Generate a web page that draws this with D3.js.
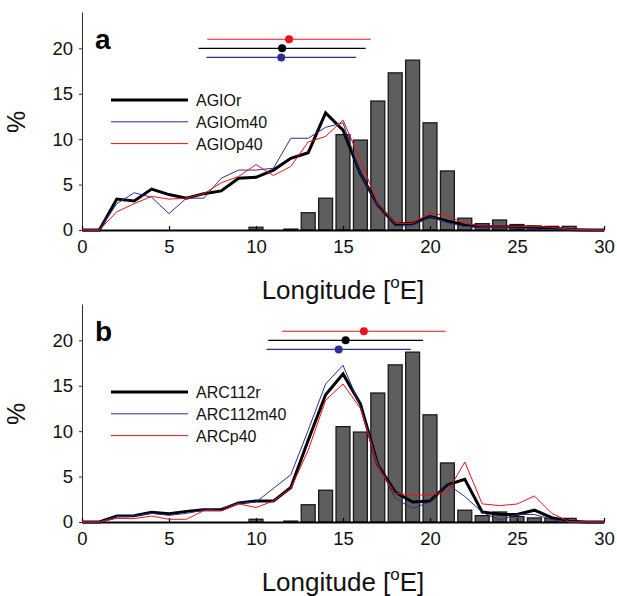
<!DOCTYPE html>
<html>
<head>
<meta charset="utf-8">
<script src="https://cdn.jsdelivr.net/npm/d3@7"></script>
<style>
  body { margin: 0; background: #fff; }
  svg { display: block; font-family: Arial, "Liberation Sans", sans-serif; }
</style>
</head>
<body>
<div id="chart"></div>
<script>
// Längengrade 0..30
const longitude = d3.range(0, 31);

// Beobachtungen (Balken), gleiche Verteilung in beiden Panels
const obsLon = [10, 12, 13, 14, 15, 16, 17, 18, 19, 20, 21, 22, 23, 24, 25, 26, 27, 28];
const obsPct = [0.3, 0.1, 1.9, 3.5, 10.5, 9.9, 14.2, 17.3, 18.7, 11.8, 6.5, 1.3, 0.7, 1.1, 0.6, 0.45, 0.4, 0.4];

// Panel a
const agioR   = [0,0,3.4,3.2,4.5,3.9,3.5,4.0,4.3,5.7,5.8,6.6,7.9,8.5,12.9,11.0,6.2,2.75,0.62,0.73,1.47,1.0,0.55,0.37,0.37,0.35,0.3,0.2,0.05,0,0];
const agioM40 = [0,0,2.9,4.1,3.6,1.8,3.5,3.5,5.7,6.6,6.6,6.8,10.1,10.1,11.3,11.8,6.2,2.6,0.44,0.44,1.47,0.8,0.37,0.3,0.25,0.2,0.1,0.05,0,0,0];
const agioP40 = [0,0,2.0,2.9,3.7,3.4,3.5,4.0,5.2,5.9,7.2,6.0,7.0,9.7,10.3,12.1,7.7,2.9,0.73,0.73,1.9,1.54,0.73,0.44,0.44,0.4,0.4,0.3,0.1,0,0];

// Panel b
const arcR   = [0,0,0.66,0.7,1.08,0.9,1.17,1.35,1.35,2.1,2.3,2.3,3.8,9.0,14.0,16.3,13.0,6.3,3.3,2.2,2.3,4.1,4.7,1.1,0.85,0.82,1.3,0.47,0.08,0,0];
const arcM40 = [0,0,0.6,0.66,0.95,0.73,0.95,1.3,1.5,2.05,2.2,3.7,5.2,10.1,15.2,17.25,12.7,6.4,2.6,1.5,2.2,4.2,2.8,1.08,0.22,0.85,0.82,0.28,0,0,0];
const arcP40 = [0,0,0.4,0.37,0.66,0.3,0.3,1.25,1.25,2.0,1.6,2.3,3.7,7.9,13.4,15.2,12.5,6.1,3.15,2.97,2.97,3.3,6.6,2.0,1.8,1.98,2.86,0.95,0.04,0,0];

// Mittelwert ± Standardabweichung (oben im Panel)
const agioMean = [11.5, 11.45, 11.9];
const agioStd  = [4.8, 4.3, 4.7];
const arcMean  = [15.15, 14.75, 16.2];
const arcStd   = [4.45, 4.15, 4.7];
const meanRowY = [20, 19, 21];

const xTicks = [0, 5, 10, 15, 20, 25, 30];
const yTicks = [0, 5, 10, 15, 20];

const colors = ["#000000", "#2e2e8e", "#f01018"];
const widths = [3, 1, 1];

const svg = d3.select("#chart").append("svg")
  .attr("width", 617)
  .attr("height", 596);

const x = d3.scaleLinear().domain([0, 30]).range([82, 604]);

function drawPanel(top, letter, names, series, means, stds) {
  const y = d3.scaleLinear().domain([0, 24]).range([top + 218, top]);
  const g = svg.append("g");

  // Balken
  const bw = x(0.8) - x(0);
  g.selectAll("rect.bar")
    .data(obsLon.map((d, i) => ({ lon: d, pct: obsPct[i] })))
    .enter().append("rect")
    .attr("class", "bar")
    .attr("x", d => x(d.lon) - bw / 2)
    .attr("width", bw)
    .attr("y", d => y(d.pct))
    .attr("height", d => y(0) - y(d.pct))
    .attr("fill", "#5e5e5e")
    .attr("stroke", "#1a1a1a")
    .attr("stroke-width", 1.3);

  // Achsen
  const yAxis = g.append("g")
    .attr("transform", `translate(${x(0)},0)`)
    .call(d3.axisLeft(y).tickValues(yTicks).tickSize(3).tickSizeOuter(0).tickPadding(6));
  yAxis.select(".domain").attr("stroke", "#333");
  yAxis.selectAll(".tick line").attr("stroke", "#333");
  yAxis.selectAll("text").attr("font-size", 18.5).attr("font-family", "Arial, 'Liberation Sans', sans-serif").attr("fill", "#111");

  const xAxis = g.append("g")
    .attr("transform", `translate(0,${y(0)})`)
    .call(d3.axisBottom(x).tickValues(xTicks).tickSize(-4).tickSizeOuter(0).tickPadding(10));
  xAxis.select(".domain").attr("stroke", "#000").attr("stroke-width", 2);
  xAxis.selectAll(".tick line").attr("stroke", "#000").attr("stroke-width", 1.2);
  xAxis.selectAll("text").attr("font-size", 18.5).attr("font-family", "Arial, 'Liberation Sans', sans-serif").attr("fill", "#111");

  // Linien
  const line = d3.line().x((d, i) => x(longitude[i])).y(d => y(d));
  series.forEach((s, i) => {
    g.append("path")
      .datum(s)
      .attr("d", line)
      .attr("fill", "none")
      .attr("stroke", colors[i])
      .attr("stroke-width", widths[i])
      .attr("stroke-linejoin", "miter");
  });

  // Mittelwert ± Std
  [0, 1, 2].forEach(i => {
    g.append("line")
      .attr("x1", x(means[i] - stds[i]))
      .attr("x2", x(means[i] + stds[i]))
      .attr("y1", y(meanRowY[i]))
      .attr("y2", y(meanRowY[i]))
      .attr("stroke", colors[i])
      .attr("stroke-width", 1.2);
    g.append("circle")
      .attr("cx", x(means[i]))
      .attr("cy", y(meanRowY[i]))
      .attr("r", 4)
      .attr("fill", colors[i]);
  });

  // Legende
  const lg = g.append("g");
  names.forEach((n, i) => {
    const ly = top + 88 + i * 21.8;
    lg.append("line")
      .attr("x1", 111).attr("x2", 188)
      .attr("y1", ly).attr("y2", ly)
      .attr("stroke", colors[i])
      .attr("stroke-width", widths[i]);
    lg.append("text")
      .attr("x", 196)
      .attr("y", ly + 6)
      .attr("font-size", 16)
      .attr("fill", "#111")
      .text(n);
  });

  // Buchstabe
  g.append("text")
    .attr("x", 95)
    .attr("y", top + 37)
    .attr("font-size", 28)
    .attr("font-weight", "bold")
    .text(letter);

  // Achsentitel
  const xt = g.append("text")
    .attr("x", x(15))
    .attr("y", y(0) + 69)
    .attr("text-anchor", "middle")
    .attr("font-size", 26)
    .attr("fill", "#111");
  xt.append("tspan").text("Longitude [");
  xt.append("tspan").attr("font-size", 17).attr("dy", -11).text("o");
  xt.append("tspan").attr("dy", 11).text("E]");

  g.append("text")
    .attr("transform", `translate(25,${top + 110}) rotate(-90)`)
    .attr("text-anchor", "middle")
    .attr("font-size", 25)
    .attr("fill", "#111")
    .text("%");
}

drawPanel(12, "a", ["AGIOr", "AGIOm40", "AGIOp40"], [agioR, agioM40, agioP40], agioMean, agioStd);
drawPanel(304, "b", ["ARC112r", "ARC112m40", "ARCp40"], [arcR, arcM40, arcP40], arcMean, arcStd);
</script>
</body>
</html>
